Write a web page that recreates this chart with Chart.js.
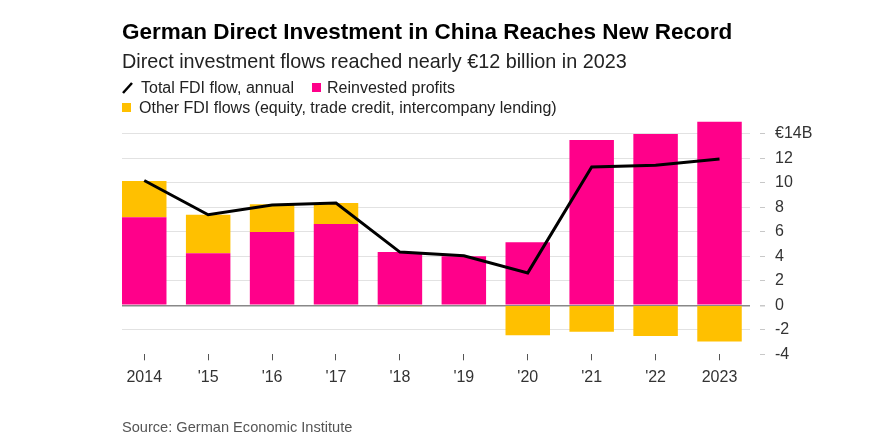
<!DOCTYPE html>
<html>
<head>
<meta charset="utf-8">
<script src="https://cdn.jsdelivr.net/npm/chart.js@4.4.1/dist/chart.umd.min.js"></script>
<style>
  body { margin: 0; background: #fff; font-family: "Liberation Sans", Arial, sans-serif; }
  #wrap { position: relative; width: 870px; height: 445px; overflow: hidden; }
  #fdi-chart { position: absolute; left: 0; top: 0; }
  .txt { position: absolute; white-space: nowrap; }
  #title { left: 122px; top: 19px; font-size: 22.5px; font-weight: bold; color: #000; }
  #subtitle { left: 122px; top: 50px; font-size: 19.8px; color: #222; }
  .leg { font-size: 16px; color: #222; }
  .swatch { position: absolute; width: 9px; height: 9px; }
  #source { left: 122px; top: 419px; font-size: 14.6px; color: #555; }
</style>
</head>
<body>
<div id="wrap">
  <canvas id="fdi-chart" width="870" height="445"></canvas>
  <div class="txt" id="title">German Direct Investment in China Reaches New Record</div>
  <div class="txt" id="subtitle">Direct investment flows reached nearly €12 billion in 2023</div>
  <svg style="position:absolute;left:121px;top:81px" width="14" height="14"><line x1="2" y1="12" x2="11" y2="2" stroke="#000" stroke-width="2.5"/></svg>
  <div class="txt leg" style="left:141px;top:79px">Total FDI flow, annual</div>
  <div class="swatch" style="left:312px;top:83px;background:#ff008a"></div>
  <div class="txt leg" style="left:327px;top:79px">Reinvested profits</div>
  <div class="swatch" style="left:122px;top:103px;background:#ffc000"></div>
  <div class="txt leg" style="left:139px;top:99px">Other FDI flows (equity, trade credit, intercompany lending)</div>
  <div class="txt" id="source">Source: German Economic Institute</div>
</div>
<script>
const years = ['2014', "'15", "'16", "'17", "'18", "'19", "'20", "'21", "'22", '2023'];
const reinvested = [7.2, 4.25, 6.0, 6.65, 4.35, 4.0, 5.15, 13.5, 14.0, 15.0];
const otherFlows = [2.95, 3.15, 2.25, 1.7, -0.08, 0, -2.45, -2.15, -2.5, -2.95];
const totalFlow = [10.2, 7.4, 8.2, 8.35, 4.35, 4.05, 2.65, 11.3, 11.45, 11.95];
const yTicks = [-4, -2, 0, 2, 4, 6, 8, 10, 12, 14];

function points(values) {
  return values.map((v, i) => ({ x: i, y: v }));
}

const ctx = document.getElementById('fdi-chart');
new Chart(ctx, {
  type: 'bar',
  data: {
    datasets: [
      {
        type: 'line',
        label: 'Total FDI flow, annual',
        data: points(totalFlow),
        borderColor: '#000',
        borderWidth: 3,
        pointRadius: 0,
        tension: 0,
        stack: 'line',
        order: 0
      },
      {
        label: 'Reinvested profits',
        data: points(reinvested),
        backgroundColor: '#ff008a',
        categoryPercentage: 0.696,
        barPercentage: 1,
        stack: 'bars',
        order: 1
      },
      {
        label: 'Other FDI flows (equity, trade credit, intercompany lending)',
        data: points(otherFlows),
        backgroundColor: '#ffc000',
        categoryPercentage: 0.696,
        barPercentage: 1,
        stack: 'bars',
        order: 1
      }
    ]
  },
  options: {
    responsive: false,
    animation: false,
    layout: { padding: { left: 122, top: 116.8, right: 0, bottom: 50.7 } },
    plugins: {
      legend: { display: false },
      tooltip: { enabled: false }
    },
    scales: {
      x: {
        type: 'linear',
        stacked: true,
        offset: false,
        min: -0.348,
        max: 9.477,
        afterBuildTicks: s => { s.ticks = years.map((y, i) => ({ value: i })); },
        afterFit: s => { s.height = 40; },
        border: { display: false },
        grid: {
          offset: false,
          drawOnChartArea: false,
          drawTicks: true,
          tickLength: 6,
          tickColor: '#555',
          tickWidth: 1
        },
        ticks: {
          padding: 8,
          color: '#333',
          font: { family: 'Liberation Sans', size: 16 },
          maxRotation: 0,
          autoSkip: false,
          callback: v => years[v]
        }
      },
      y: {
        position: 'right',
        stacked: true,
        min: -4,
        max: 15.4,
        afterBuildTicks: s => { s.ticks = yTicks.map(v => ({ value: v })); },
        afterFit: s => { s.width = 120; },
        border: { display: false },
        grid: {
          color: c => c.tick && c.tick.value === -4 ? 'rgba(0,0,0,0)' : (c.tick && c.tick.value === 0 ? '#888' : '#e2e2e2'),
          lineWidth: c => c.tick && c.tick.value === 0 ? 1.5 : 1,
          tickColor: '#c8c8c8',
          tickLength: 15,
          tickBorderDash: [0, 10, 5, 50]
        },
        ticks: {
          padding: 10,
          color: '#333',
          font: { family: 'Liberation Sans', size: 16 },
          callback: v => v === 14 ? '€14B' : v
        }
      }
    }
  }
});
</script>
</body>
</html>
